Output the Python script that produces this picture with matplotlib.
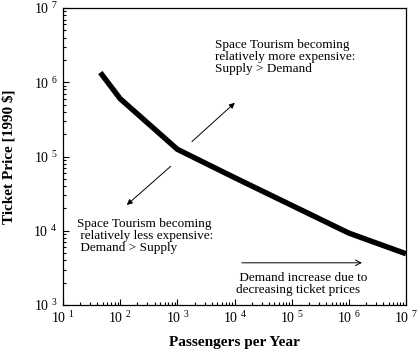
import math
import matplotlib
matplotlib.use("Agg")
import matplotlib.pyplot as plt
from matplotlib.ticker import FuncFormatter, FixedLocator, LogLocator, NullFormatter

plt.rcParams['font.family'] = 'Liberation Serif'
plt.rcParams['mathtext.fontset'] = 'custom'
plt.rcParams['mathtext.rm'] = 'Liberation Serif'

# curve
passengers = [45, 100, 1000, 1e4, 1e5, 1e6, 1e7]
price = [1.35e6, 6.0e5, 1.25e5, 5.2e4, 2.2e4, 9.3e3, 4.9e3]
x_decades = [1, 2, 3, 4, 5, 6, 7]
y_decades = [3, 4, 5, 6, 7]

fig = plt.figure(figsize=(4.19, 3.49), dpi=100)
ax = fig.add_axes([63/419, 1 - 305/349, 343/419, 297/349])

ax.plot(passengers, price, color='black', linewidth=3.9, solid_capstyle='butt')

ax.set_xscale('log')
ax.set_yscale('log')
ax.set_xlim(10, 1e7)
ax.set_ylim(1e3, 1e7)

fmt = FuncFormatter(lambda v, p: r'$\mathregular{10^{\ %d}}$' % round(math.log10(v)))
ax.xaxis.set_major_locator(FixedLocator([10.0 ** d for d in x_decades]))
ax.yaxis.set_major_locator(FixedLocator([10.0 ** d for d in y_decades]))
ax.xaxis.set_major_formatter(fmt)
ax.yaxis.set_major_formatter(fmt)
ax.xaxis.set_minor_locator(LogLocator(base=10, subs=range(2, 10), numticks=20))
ax.yaxis.set_minor_locator(LogLocator(base=10, subs=range(2, 10), numticks=20))
ax.xaxis.set_minor_formatter(NullFormatter())
ax.yaxis.set_minor_formatter(NullFormatter())
ax.tick_params(which='both', direction='in', top=False, right=False, labelsize=10, width=0.8)
ax.tick_params(which='major', length=4, pad=4)
ax.tick_params(which='minor', length=2)
for s in ax.spines.values():
    s.set_linewidth(0.9)

ax.set_xlabel('Passengers per Year', fontsize=11, fontweight='bold', labelpad=7)
ax.set_ylabel('Ticket Price [1990 $]', fontsize=11, fontweight='bold', labelpad=13)

# arrows
ax.annotate('', xy=(1.1e4, 5.6e5), xytext=(1660, 1.5e5),
            arrowprops=dict(arrowstyle='-|>', color='black', lw=0.7, mutation_scale=8))
ax.annotate('', xy=(120, 2.1e4), xytext=(830, 7.8e4),
            arrowprops=dict(arrowstyle='-|>', color='black', lw=0.7, mutation_scale=8))
ax.annotate('', xy=(1.9e6, 3.7e3), xytext=(1.2e4, 3.7e3),
            arrowprops=dict(arrowstyle='->', color='black', lw=0.7, mutation_scale=10))

ax.text(0.443, 0.895, 'Space Tourism becoming\nrelatively more expensive:\nSupply > Demand',
        transform=ax.transAxes, ha='left', va='top', fontsize=9.5, linespacing=1.0)
ax.text(0.04, 0.292, 'Space Tourism becoming\n relatively less expensive:\n Demand > Supply',
        transform=ax.transAxes, ha='left', va='top', fontsize=9.5, linespacing=1.0)
ax.text(0.505, 0.112, ' Demand increase due to\ndecreasing ticket prices',
        transform=ax.transAxes, ha='left', va='top', fontsize=9.5, linespacing=1.0)

fig.savefig('out.png', dpi=100)
